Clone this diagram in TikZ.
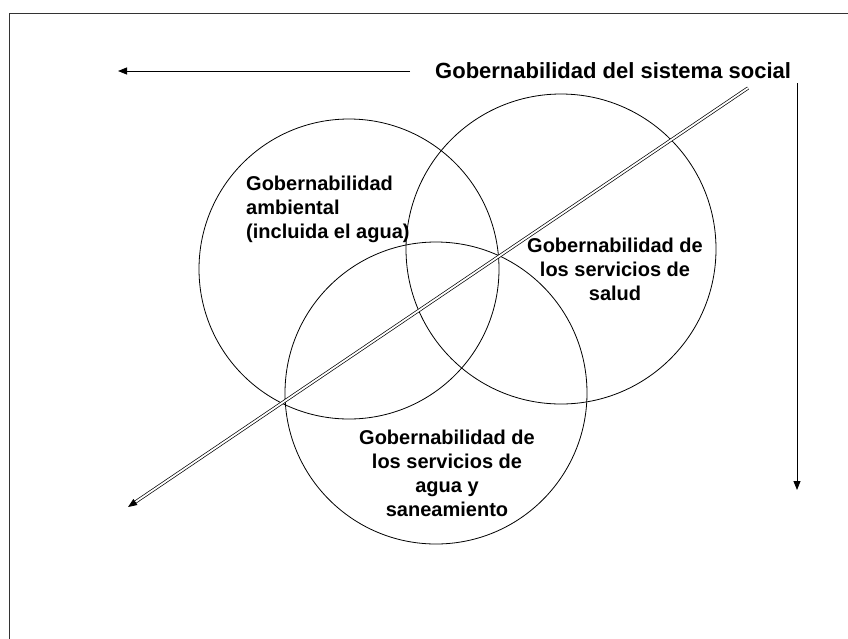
\documentclass[tikz,border=0pt]{standalone}
\usepackage{fontspec}
\setmainfont{Liberation Sans}
\usetikzlibrary{arrows.meta,calc}
\begin{document}
\begin{tikzpicture}[x=1pt,y=-1pt,
  ring/.style={circle,draw,line width=0.8pt,inner sep=0pt},
  lbl/.style={font=\fontsize{20}{24}\selectfont\bfseries,inner sep=0pt,align=center},
  tip/.style={-{Triangle[length=9pt,width=7pt]}},
  thin arrow/.style={line width=0.9pt,tip}]
\useasboundingbox (0,0) rectangle (848,638);
\begin{scope}
\clip (0,0) rectangle (848,638);
\draw[line width=1.4pt,black!80] (9.5,13.5) rectangle (860,660);
\end{scope}
% circles
\node[ring,minimum size=300pt] (c1) at (349,269) {};
\node[ring,minimum size=310pt] (c2) at (561,249) {};
\node[ring,minimum size=302pt] (c3) at (436,393) {};
% title
\node[font=\fontsize{22}{27}\selectfont\bfseries,inner sep=0pt,anchor=base west] (title) at (435,78) {Gobernabilidad del sistema social};
% labels (base = baseline of last line)
\node[lbl,align=left,anchor=base west] (t1) at (246,238) {Gobernabilidad\\ambiental\\(incluida el agua)};
\node[lbl,anchor=base] (t2) at (615,300) {Gobernabilidad de\\los servicios de\\salud};
\node[lbl,anchor=base] (t3) at (447,516) {Gobernabilidad de\\los servicios de\\agua y\\saneamiento};
% arrows
\coordinate (ha) at (410,71);
\coordinate (hb) at (118,71);
\draw[thin arrow] (ha) -- (hb);
\coordinate (va) at (797,83);
\coordinate (vb) at (797,490);
\draw[thin arrow] (va) -- (vb);
\coordinate (da) at (748,88);
\coordinate (db) at (128,507);
\coordinate (dc) at ($(db)!8pt!(da)$);
\draw[double,double distance=1.8pt,line width=0.7pt] (da) -- (dc);
\draw[line width=0.9pt,tip] (dc) -- (db);
\end{tikzpicture}
\end{document}
